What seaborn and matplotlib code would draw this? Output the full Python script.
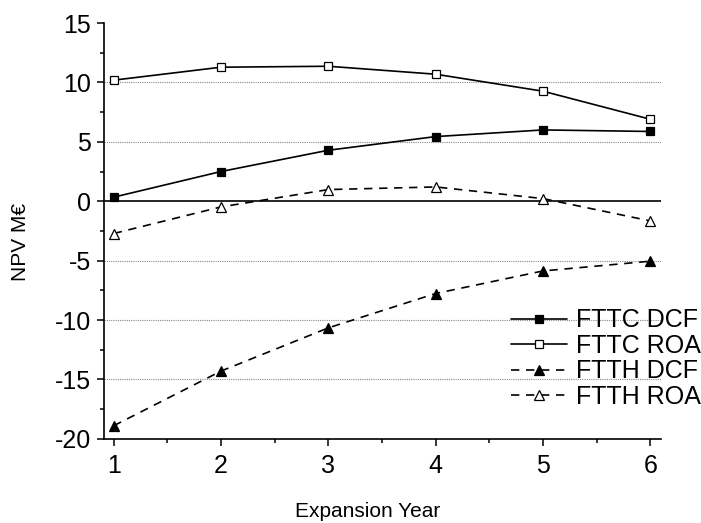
import pandas as pd
import numpy as np
import seaborn as sns
import matplotlib
import matplotlib.pyplot as plt
from matplotlib.ticker import MultipleLocator

matplotlib.use('Agg')

# Data
years = [1, 2, 3, 4, 5, 6]
fttc_dcf = [0.34, 2.5, 4.29, 5.44, 6.0, 5.87]
fttc_roa = [10.19, 11.28, 11.36, 10.69, 9.26, 6.9]
ftth_dcf = [-18.9, -14.3, -10.66, -7.77, -5.87, -5.05]
ftth_roa = [-2.72, -0.48, 0.98, 1.2, 0.22, -1.66]

series_names = ['FTTC DCF', 'FTTC ROA', 'FTTH DCF', 'FTTH ROA']
series_values = [fttc_dcf, fttc_roa, ftth_dcf, ftth_roa]

sns.set_style('ticks')
plt.rcParams['font.family'] = ['Liberation Sans', 'DejaVu Sans']
plt.rcParams['axes.unicode_minus'] = False
for key in ['text.color', 'axes.labelcolor', 'xtick.color', 'ytick.color',
            'xtick.labelcolor', 'ytick.labelcolor']:
    plt.rcParams[key] = 'black'


def plot_npv(out_path='out.png'):
    df = pd.DataFrame({'year': years * 4,
                       'npv': np.concatenate(series_values),
                       'series': np.repeat(series_names, len(years))})

    fig = plt.figure(figsize=(7.01, 5.23), dpi=100)
    ax = fig.add_axes([0.148, 0.161, 0.795, 0.795])

    # (marker, facecolor, linestyle, markersize) per series
    styles = {
        'FTTC DCF': ('s', 'black', '-', 6),
        'FTTC ROA': ('s', 'white', '-', 6),
        'FTTH DCF': ('^', 'black', (0, (5, 4)), 7),
        'FTTH ROA': ('^', 'white', (0, (5, 4)), 7),
    }

    # reference lines
    for yv in [-15, -10, -5, 5, 10]:
        ax.axhline(yv, color='#888888', lw=0.8, ls=(0, (1, 1)), zorder=0)
    ax.axhline(0, color='black', lw=1.2, zorder=1)

    for name in series_names:
        marker, fc, ls, ms = styles[name]
        sns.lineplot(data=df[df['series'] == name], x='year', y='npv', ax=ax,
                     color='black', lw=1.2, linestyle=ls, marker=marker,
                     markersize=ms, markerfacecolor=fc, markeredgecolor='black',
                     markeredgewidth=0.9, label=name, zorder=3)

    ax.set_xlim(0.907, 6.1)
    ax.set_ylim(-20, 15)
    ax.xaxis.set_major_locator(MultipleLocator(1))
    ax.xaxis.set_minor_locator(MultipleLocator(0.5))
    ax.yaxis.set_major_locator(MultipleLocator(5))
    ax.yaxis.set_minor_locator(MultipleLocator(2.5))
    ax.tick_params(which='major', direction='out', length=5, width=1.1,
                   labelsize=18, color='black')
    ax.tick_params(axis='x', which='major', pad=6)
    ax.tick_params(axis='y', which='major', pad=4)
    ax.tick_params(which='minor', direction='out', length=3, width=1.1, color='black')

    for side in ['top', 'right']:
        ax.spines[side].set_visible(False)
    for side in ['left', 'bottom']:
        ax.spines[side].set_linewidth(1.2)
        ax.spines[side].set_color('black')

    ax.set_xlabel('Expansion Year', fontsize=15)
    ax.set_ylabel('NPV M€', fontsize=15)
    ax.xaxis.set_label_coords(0.474, -0.152)
    ax.yaxis.set_label_coords(-0.133, 0.474)

    ax.legend(loc='lower right', bbox_to_anchor=(1.0, 0.218),
              bbox_transform=fig.transFigure, frameon=False, fontsize=18,
              handlelength=2.25, handletextpad=0.35, labelspacing=0.06,
              borderpad=0, borderaxespad=0)

    fig.savefig(out_path, dpi=100)
    plt.close(fig)


if __name__ == "__main__":
    plot_npv('out.png')
